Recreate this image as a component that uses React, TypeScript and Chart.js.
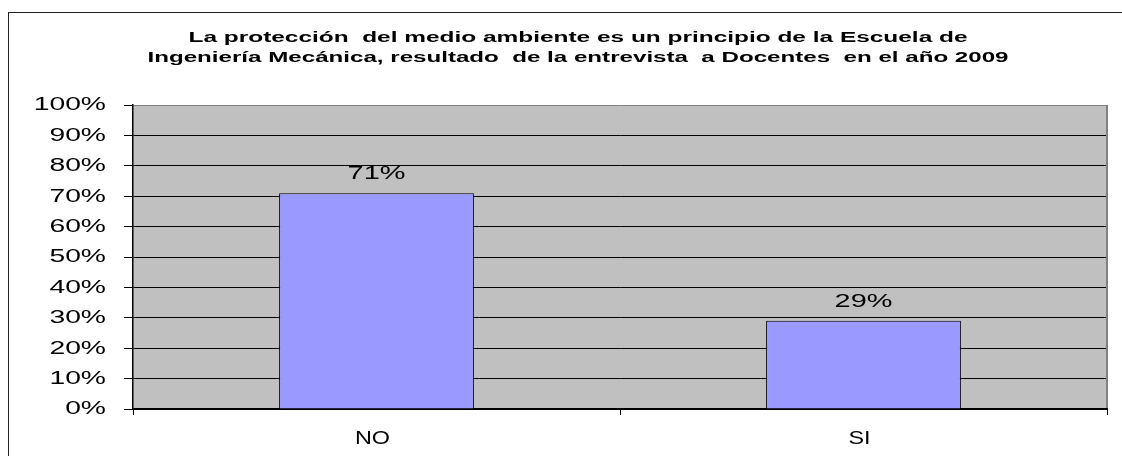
import React, { useEffect, useRef } from 'react';
import { Chart, registerables } from 'chart.js';

Chart.register(...registerables);

const categories: string[] = ['NO', 'SI'];
const values: number[] = [71, 29];
const valueLabels: string[] = ['71%', '29%'];
const yMin = 0;
const yMax = 100;
const yStep = 10;
const titleLines: string[] = [
  'La protección  del medio ambiente es un principio de la Escuela de',
  'Ingeniería Mecánica, resultado  de la entrevista  a Docentes  en el año 2009',
];

const FONT = '"Liberation Sans", Arial, sans-serif';

function drawStretched(ctx: CanvasRenderingContext2D, text: string, x: number, y: number, sx: number, align: CanvasTextAlign) {
  ctx.save();
  ctx.translate(x, y);
  ctx.scale(sx, 1);
  ctx.textAlign = align;
  ctx.textBaseline = 'middle';
  ctx.fillText(text, 0, 0);
  ctx.restore();
}

const customPlugin = {
  id: 'customDraw',
  beforeDraw(chart: any) {
    const { ctx, chartArea: a } = chart;
    ctx.save();
    ctx.fillStyle = '#ffffff';
    ctx.fillRect(0, 0, chart.width, chart.height);
    ctx.fillStyle = '#C0C0C0';
    ctx.fillRect(a.left, a.top, a.right - a.left, a.bottom - a.top);
    ctx.strokeStyle = '#222222';
    ctx.lineWidth = 1;
    ctx.strokeRect(8.5, 12.5, 1300, 600);
    ctx.restore();
  },
  afterDatasetsDraw(chart: any) {
    const { ctx } = chart;
    const meta = chart.getDatasetMeta(0);
    ctx.save();
    ctx.fillStyle = '#000';
    ctx.font = `19px ${FONT}`;
    meta.data.forEach((el: any, i: number) => {
      drawStretched(ctx, valueLabels[i], el.x, el.y - 19, 1.52, 'center');
    });
    ctx.restore();
  },
  afterDraw(chart: any) {
    const { ctx, chartArea: a, scales } = chart;
    ctx.save();
    ctx.strokeStyle = '#808080';
    ctx.lineWidth = 2;
    ctx.beginPath();
    ctx.moveTo(a.right, a.top);
    ctx.lineTo(a.right, a.bottom - 1);
    ctx.stroke();

    ctx.fillStyle = '#000';
    ctx.font = `18px ${FONT}`;
    scales.y.ticks.forEach((t: any) => {
      const py = scales.y.getPixelForValue(t.value);
      drawStretched(ctx, `${t.value}%`, 106, py + 0.5, 1.57, 'right');
    });
    categories.forEach((c, i) => {
      const px = scales.x.getPixelForValue(i);
      drawStretched(ctx, c, px - 4, 439.5, 1.3, 'center');
    });
    ctx.font = `bold 14.5px ${FONT}`;
    const targets = [779, 861];
    const ys = [37.5, 57.5];
    titleLines.forEach((line, i) => {
      const w = ctx.measureText(line).width;
      drawStretched(ctx, line, 578, ys[i], targets[i] / w, 'center');
    });
    ctx.restore();
  },
};

export default function App() {
  const ref = useRef<HTMLCanvasElement | null>(null);
  useEffect(() => {
    if (!ref.current) return;
    const chart = new Chart(ref.current, {
      type: 'bar',
      data: {
        labels: categories,
        datasets: [
          {
            data: values,
            backgroundColor: '#9999FF',
            borderColor: '#000000',
            borderWidth: 1,
            categoryPercentage: 1,
            barPercentage: 0.4,
          },
        ],
      },
      options: {
        animation: false,
        responsive: true,
        maintainAspectRatio: false,
        layout: { padding: { left: 0, right: 15, top: 105, bottom: 0 } },
        plugins: {
          legend: { display: false },
          title: { display: false },
          tooltip: { enabled: false },
        },
        scales: {
          x: {
            afterFit(scale: any) {
              scale.height = 47;
            },
            grid: {
              display: true,
              drawOnChartArea: false,
              drawTicks: true,
              tickLength: 6,
              offset: true,
              color: '#000',
              tickColor: '#000',
              lineWidth: 1,
            },
            border: { display: true, color: '#000', width: 2 },
            ticks: { color: 'rgba(0,0,0,0)', font: { size: 18, family: FONT } },
          },
          y: {
            min: yMin,
            max: yMax,
            afterFit(scale: any) {
              scale.width = 133;
            },
            ticks: {
              stepSize: yStep,
              color: 'rgba(0,0,0,0)',
              font: { size: 18, family: FONT },
              callback: (v: any) => `${v}%`,
            },
            grid: {
              display: true,
              drawOnChartArea: true,
              drawTicks: true,
              tickLength: 9,
              color: (c: any) => (c.tick && c.tick.value === yMax ? '#808080' : '#000000'),
              tickColor: '#000',
              lineWidth: 1,
            },
            border: { display: true, color: '#000', width: 1.5 },
          },
        },
      },
      plugins: [customPlugin],
    });
    return () => chart.destroy();
  }, []);

  return (
    <div style={{ position: 'fixed', left: 0, top: 0, width: 1122, height: 456, background: '#fff' }}>
      <canvas ref={ref} />
    </div>
  );
}
